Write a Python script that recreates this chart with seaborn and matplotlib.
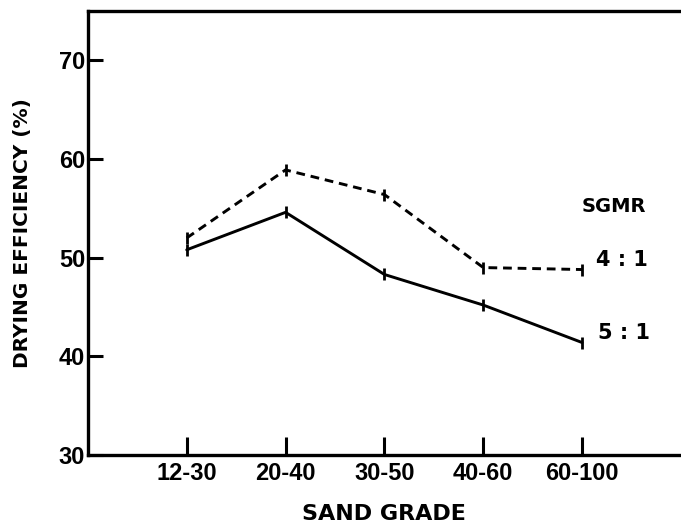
"""Drying efficiency against sand grade for two SGMR ratios."""
import matplotlib

matplotlib.use("Agg")
import matplotlib.pyplot as plt
import pandas as pd
import seaborn as sns

grades = ["12-30", "20-40", "30-50", "40-60", "60-100"]
eff_4to1 = [52.0, 58.9, 56.4, 49.0, 48.8]
eff_5to1 = [50.8, 54.6, 48.3, 45.2, 41.4]
yticks = [30, 40, 50, 60, 70]

sns.set_theme(style="white")
plt.rcParams["font.family"] = ["Liberation Sans", "DejaVu Sans"]
plt.rcParams["text.color"] = "black"
plt.rcParams["axes.labelcolor"] = "black"

df = pd.DataFrame(
    {
        "grade": grades * 2,
        "eff": eff_4to1 + eff_5to1,
        "sgmr": ["4 : 1"] * 5 + ["5 : 1"] * 5,
    }
)

fig = plt.figure(figsize=(6.81, 5.27), dpi=100)
ax = fig.add_axes([0.129, 0.1366, 0.871, 0.8424])

sns.lineplot(
    data=df,
    x="grade",
    y="eff",
    hue="sgmr",
    style="sgmr",
    palette={"4 : 1": "black", "5 : 1": "black"},
    dashes={"4 : 1": (3, 2), "5 : 1": ""},
    markers={"4 : 1": "|", "5 : 1": "|"},
    markersize=9,
    markeredgewidth=2,
    markeredgecolor="black",
    linewidth=2.1,
    legend=False,
    ax=ax,
)

ax.set_xlim(-1, 5)
ax.set_ylim(30, 75)
ax.set_yticks(yticks)
ax.tick_params(
    axis="both", direction="in", width=2.2, length=11, colors="black",
    labelsize=17, pad=2, bottom=True, left=True,
)
ax.tick_params(axis="x", length=13, pad=5)
for lab in ax.get_xticklabels() + ax.get_yticklabels():
    lab.set_fontweight("bold")

for side in ["left", "bottom", "top"]:
    ax.spines[side].set_linewidth(2.4)
    ax.spines[side].set_color("black")
ax.spines["right"].set_visible(False)

ax.set_xlabel("SAND GRADE", fontsize=16, fontweight="bold", family="DejaVu Sans", labelpad=14)
ax.set_ylabel("DRYING EFFICIENCY (%)", fontsize=14.5, fontweight="bold", family="DejaVu Sans", labelpad=19)

ax.text(4.32, 55.2, "SGMR", ha="center", va="center", fontsize=14, fontweight="bold", family="DejaVu Sans")
ax.text(4.4, 49.8, "4 : 1", ha="center", va="center", fontsize=15, fontweight="bold", family="DejaVu Sans")
ax.text(4.42, 42.4, "5 : 1", ha="center", va="center", fontsize=15, fontweight="bold", family="DejaVu Sans")

fig.savefig("out.png", dpi=100)
